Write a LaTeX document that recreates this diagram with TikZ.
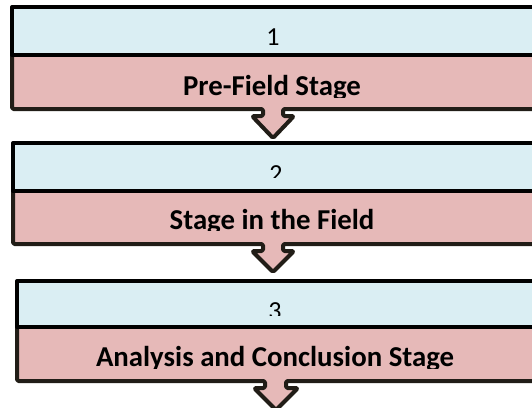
\documentclass[tikz,border=0pt]{standalone}
\usepackage{fontspec}
\setmainfont{Carlito}
\usepackage{tikz}
\usetikzlibrary{positioning,calc}

\definecolor{bandblue}{HTML}{DAEEF3}
\definecolor{bandpink}{HTML}{E6B9B8}
\definecolor{edgedark}{HTML}{211D17}

\tikzset{
  numtext/.style={anchor=base,inner sep=0pt,font=\fontsize{26}{30}\selectfont},
  stagetext/.style={anchor=base,inner sep=0pt,font=\fontsize{28.8}{33}\selectfont\bfseries},
  topedge/.style={line width=4pt,black,line join=round},
  botedge/.style={line width=4pt,edgedark,line join=round,rounded corners=1.5pt},
}

\begin{document}
\begin{tikzpicture}[x=1pt,y=-1pt]
  \useasboundingbox (0,0) rectangle (532,407);
  \clip (0,0) rectangle (532,407);

  % stage 1
  \fill[bandblue] (12,7) rectangle (545,55);
  \fill[bandpink] (12,55) -- (12,109) -- (263,109) -- (263,116) -- (252,116) -- (273,138)
        -- (294,116) -- (283,116) -- (283,109) -- (545,109) -- (545,55) -- cycle;
  \node[numtext] (num1) at (273,45) {1};
  \begin{scope}
    \clip (12,55) rectangle (545,97);
    \node[stagetext] (stage1) at (272,95.5) {Pre-Field Stage};
  \end{scope}
  \draw[botedge] (12,55) -- (12,109) -- (263,109) -- (263,116) -- (252,116) -- (273,138)
        -- (294,116) -- (283,116) -- (283,109) -- (545,109);
  \draw[topedge] (545,7) -- (12,7) -- (12,55) -- (545,55);

  % stage 2
  \fill[bandblue] (13,143) rectangle (545,191);
  \fill[bandpink] (13,191) -- (13,244) -- (263,244) -- (263,251) -- (252,251) -- (273,272)
        -- (294,251) -- (283,251) -- (283,244) -- (545,244) -- (545,191) -- cycle;
  \begin{scope}
    \clip (13,143) rectangle (545,177.5);
    \node[numtext] (num2) at (276,182) {2};
  \end{scope}
  \begin{scope}
    \clip (13,191) rectangle (545,230.5);
    \node[stagetext] (stage2) at (272,229) {Stage in the Field};
  \end{scope}
  \draw[botedge] (13,191) -- (13,244) -- (263,244) -- (263,251) -- (252,251) -- (273,272)
        -- (294,251) -- (283,251) -- (283,244) -- (545,244);
  \draw[topedge] (545,143) -- (13,143) -- (13,191) -- (545,191);

  % stage 3
  \fill[bandblue] (17,281) rectangle (545,327);
  \fill[bandpink] (17,327) -- (17,381) -- (265,381) -- (265,388) -- (254,388) -- (276,410)
        -- (298,388) -- (286,388) -- (286,381) -- (545,381) -- (545,327) -- cycle;
  \begin{scope}
    \clip (17,281) rectangle (545,315);
    \node[numtext] (num3) at (275,319) {3};
  \end{scope}
  \begin{scope}
    \clip (17,327) rectangle (545,368);
    \node[stagetext] (stage3) at (275,366.5) {Analysis and Conclusion Stage};
  \end{scope}
  \draw[botedge] (17,327) -- (17,381) -- (265,381) -- (265,388) -- (254,388) -- (276,410)
        -- (298,388) -- (286,388) -- (286,381) -- (545,381);
  \draw[topedge] (545,281) -- (17,281) -- (17,327) -- (545,327);
\end{tikzpicture}
\end{document}
